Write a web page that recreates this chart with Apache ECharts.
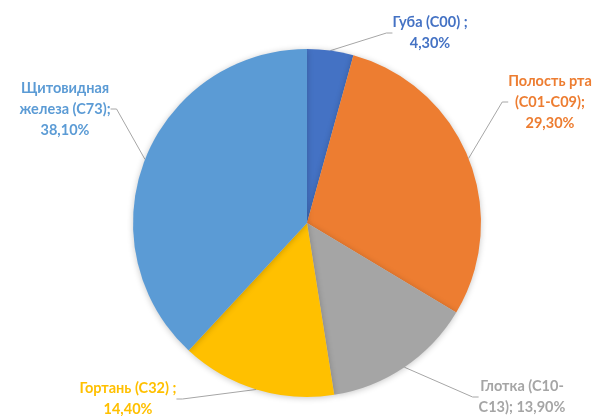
<!DOCTYPE html>
<html>
<head>
<meta charset="utf-8">
<script src="https://cdn.jsdelivr.net/npm/echarts@6/dist/echarts.min.js"></script>
<style>
  html, body { margin: 0; padding: 0; background: #fff; }
  #chart { width: 598px; height: 416px; }
</style>
</head>
<body>
<div id="chart"></div>
<script>
// Localisation of head and neck tumours, share of cases (%)
const categories = ['Губа (C00) ;', 'Полость рта\n(C01-C09);', 'Глотка (C10-\nC13);', 'Гортань (C32) ;', 'Щитовидная\nжелеза (C73);'];
const shares = [4.3, 29.3, 13.9, 14.4, 38.1];
const valueSeparators = ['\n', '\n', ' ', '\n', '\n'];
const sliceColors = ['#4472C4', '#ED7D31', '#A5A5A5', '#FFC000', '#5B9BD5'];

// Where each label block sits (centre of text), in pixels
const labelAnchors = [[430, 33], [550, 102], [522, 397], [128, 399], [65, 109]];

const fmt = v => v.toFixed(2).replace('.', ',') + '%';

const chart = echarts.init(document.getElementById('chart'));
chart.setOption({
  animation: false,
  series: [{
    type: 'pie',
    center: [307, 223],
    radius: 174,
    startAngle: 90,
    clockwise: true,
    data: categories.map((c, i) => ({
      name: c,
      value: shares[i],
      itemStyle: { color: sliceColors[i] },
      label: { color: sliceColors[i] }
    })),
    itemStyle: {
      borderWidth: 0,
      shadowBlur: 6,
      shadowColor: 'rgba(0,0,0,0.22)',
      shadowOffsetY: 1
    },
    label: {
      show: true,
      position: 'outside',
      fontFamily: 'Lato, "Open Sans", sans-serif',
      fontWeight: 'bold',
      fontSize: 14.5,
      lineHeight: 21,
      align: 'center',
      formatter: p => p.name + valueSeparators[p.dataIndex] + fmt(p.value)
    },
    labelLine: {
      show: true,
      length: 12,
      length2: 6,
      lineStyle: { color: '#A6A6A6', width: 1 }
    },
    labelLayout: p => ({
      x: labelAnchors[p.dataIndex][0],
      y: labelAnchors[p.dataIndex][1],
      align: 'center',
      verticalAlign: 'middle',
      moveOverlap: null
    })
  }]
});
</script>
</body>
</html>
